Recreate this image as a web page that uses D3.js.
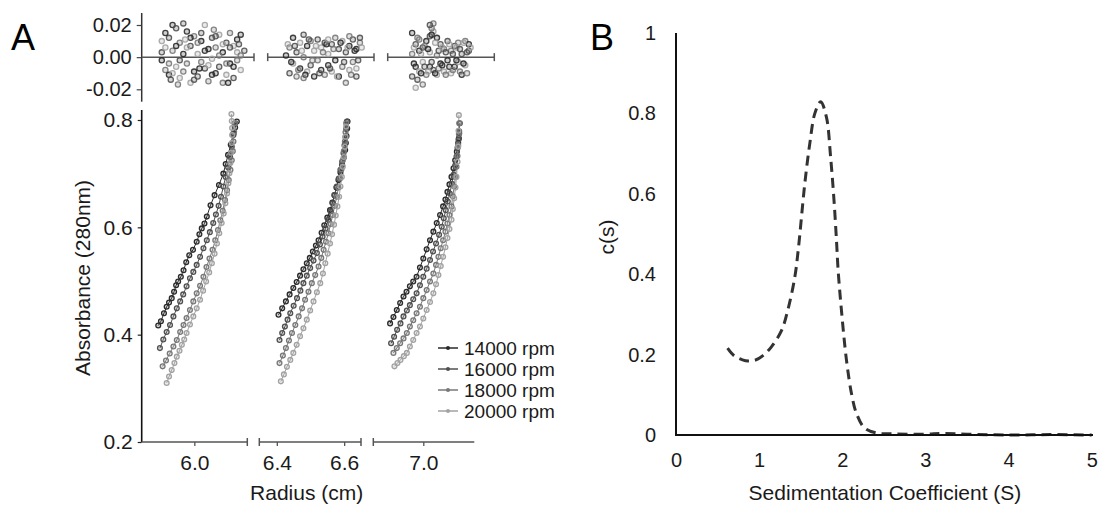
<!DOCTYPE html>
<html>
<head>
<meta charset="utf-8">
<script src="https://cdn.jsdelivr.net/npm/d3@7"></script>
<style>
  html, body { margin: 0; padding: 0; background: #fff; }
  svg { display: block; font-family: "Liberation Sans", Arial, sans-serif; }
</style>
</head>
<body>
<svg id="chart" width="1101" height="506"></svg>
<script>
// ---- Panel A data ----
const speeds = ["14000 rpm", "16000 rpm", "18000 rpm", "20000 rpm"];
const speedColors = ["#2a2a2a", "#505050", "#787878", "#a2a2a2"];

// radius (cm), absorbance — one array per speed, per cell
const cell1Curves = [
  [[5.893,0.417],[5.901,0.425],[5.91,0.44],[5.918,0.452],[5.925,0.46],[5.933,0.468],[5.94,0.48],[5.946,0.492],[5.952,0.499],[5.96,0.508],[5.968,0.52],[5.976,0.535],[5.985,0.548],[5.996,0.558],[6.007,0.573],[6.015,0.587],[6.022,0.598],[6.03,0.607],[6.037,0.62],[6.048,0.641],[6.06,0.66],[6.073,0.679],[6.086,0.70],[6.093,0.718],[6.10,0.735],[6.108,0.754],[6.116,0.775],[6.121,0.786],[6.126,0.797]],
  [[5.898,0.375],[5.908,0.391],[5.918,0.405],[5.928,0.418],[5.938,0.434],[5.948,0.449],[5.958,0.462],[5.967,0.475],[5.977,0.49],[5.987,0.505],[5.997,0.517],[6.007,0.53],[6.017,0.545],[6.027,0.561],[6.037,0.576],[6.046,0.591],[6.056,0.608],[6.064,0.624],[6.072,0.64],[6.079,0.657],[6.086,0.676],[6.093,0.694],[6.10,0.712],[6.106,0.731],[6.111,0.75],[6.116,0.772],[6.121,0.794]],
  [[5.906,0.341],[5.916,0.352],[5.927,0.365],[5.938,0.378],[5.948,0.39],[5.958,0.405],[5.968,0.418],[5.977,0.431],[5.987,0.446],[5.997,0.462],[6.007,0.477],[6.017,0.491],[6.027,0.508],[6.036,0.526],[6.045,0.542],[6.054,0.558],[6.062,0.576],[6.07,0.595],[6.077,0.613],[6.084,0.631],[6.091,0.651],[6.097,0.669],[6.102,0.688],[6.107,0.707],[6.111,0.725],[6.114,0.742],[6.116,0.76],[6.118,0.778],[6.12,0.794]],
  [[5.918,0.31],[5.925,0.322],[5.933,0.334],[5.941,0.347],[5.948,0.359],[5.956,0.37],[5.963,0.381],[5.97,0.391],[5.977,0.403],[5.987,0.419],[5.997,0.434],[6.007,0.449],[6.017,0.465],[6.026,0.482],[6.035,0.499],[6.044,0.516],[6.052,0.533],[6.06,0.551],[6.067,0.57],[6.074,0.589],[6.081,0.608],[6.087,0.626],[6.092,0.645],[6.097,0.663],[6.101,0.682],[6.104,0.701],[6.107,0.72],[6.109,0.739],[6.111,0.757],[6.112,0.772],[6.112,0.785],[6.111,0.798],[6.11,0.811]],
];
const cell2Curves = [
  [[6.405,0.437],[6.416,0.449],[6.427,0.462],[6.438,0.475],[6.449,0.487],[6.459,0.498],[6.469,0.51],[6.479,0.522],[6.489,0.533],[6.498,0.543],[6.507,0.555],[6.516,0.566],[6.524,0.576],[6.533,0.59],[6.541,0.604],[6.55,0.618],[6.558,0.632],[6.565,0.646],[6.571,0.66],[6.577,0.674],[6.583,0.688],[6.589,0.702],[6.594,0.716],[6.599,0.73],[6.603,0.744],[6.605,0.757],[6.607,0.77],[6.609,0.784],[6.61,0.797]],
  [[6.408,0.39],[6.416,0.403],[6.424,0.415],[6.432,0.428],[6.44,0.44],[6.45,0.454],[6.46,0.468],[6.47,0.482],[6.479,0.496],[6.489,0.51],[6.499,0.524],[6.509,0.538],[6.519,0.552],[6.528,0.568],[6.536,0.583],[6.545,0.598],[6.553,0.614],[6.56,0.63],[6.566,0.645],[6.572,0.66],[6.578,0.676],[6.584,0.691],[6.589,0.707],[6.594,0.722],[6.598,0.738],[6.601,0.753],[6.604,0.768],[6.606,0.783],[6.608,0.797]],
  [[6.408,0.347],[6.418,0.361],[6.427,0.375],[6.436,0.389],[6.445,0.403],[6.455,0.418],[6.465,0.434],[6.475,0.449],[6.484,0.465],[6.494,0.48],[6.504,0.496],[6.514,0.511],[6.524,0.527],[6.532,0.543],[6.539,0.558],[6.546,0.573],[6.553,0.589],[6.56,0.606],[6.566,0.623],[6.572,0.64],[6.578,0.657],[6.583,0.674],[6.588,0.691],[6.592,0.708],[6.596,0.725],[6.599,0.742],[6.602,0.76],[6.604,0.777],[6.606,0.794]],
  [[6.412,0.313],[6.421,0.326],[6.43,0.34],[6.44,0.353],[6.449,0.366],[6.459,0.381],[6.469,0.397],[6.479,0.412],[6.489,0.428],[6.499,0.445],[6.509,0.462],[6.519,0.479],[6.529,0.496],[6.537,0.514],[6.544,0.533],[6.551,0.551],[6.558,0.57],[6.564,0.587],[6.57,0.605],[6.575,0.622],[6.58,0.639],[6.585,0.657],[6.589,0.676],[6.593,0.694],[6.596,0.713],[6.599,0.731],[6.602,0.75],[6.604,0.769],[6.606,0.788]],
];
const cell3Curves = [
  [[6.901,0.421],[6.911,0.433],[6.921,0.446],[6.931,0.459],[6.941,0.471],[6.95,0.48],[6.96,0.49],[6.97,0.499],[6.98,0.508],[6.99,0.525],[7.0,0.542],[7.01,0.559],[7.02,0.576],[7.03,0.592],[7.04,0.608],[7.05,0.623],[7.059,0.639],[7.066,0.652],[7.072,0.666],[7.078,0.68],[7.084,0.694],[7.09,0.71],[7.095,0.725],[7.1,0.741],[7.104,0.757],[7.106,0.766],[7.107,0.775]],
  [[6.904,0.384],[6.913,0.396],[6.922,0.409],[6.932,0.421],[6.941,0.434],[6.951,0.445],[6.96,0.455],[6.97,0.466],[6.98,0.477],[6.99,0.492],[7.0,0.508],[7.01,0.523],[7.02,0.539],[7.029,0.555],[7.038,0.57],[7.047,0.586],[7.055,0.601],[7.061,0.617],[7.067,0.632],[7.073,0.648],[7.079,0.663],[7.085,0.681],[7.09,0.698],[7.095,0.715],[7.099,0.732],[7.102,0.748],[7.105,0.763],[7.107,0.779],[7.109,0.794]],
  [[6.911,0.366],[6.921,0.375],[6.931,0.384],[6.941,0.393],[6.951,0.403],[6.96,0.415],[6.97,0.427],[6.98,0.44],[6.99,0.452],[7.0,0.468],[7.01,0.483],[7.02,0.499],[7.03,0.514],[7.038,0.53],[7.045,0.545],[7.052,0.561],[7.059,0.576],[7.066,0.592],[7.072,0.607],[7.078,0.623],[7.084,0.639],[7.088,0.658],[7.092,0.676],[7.096,0.694],[7.099,0.713],[7.102,0.733],[7.104,0.753],[7.106,0.774],[7.107,0.794]],
  [[6.914,0.341],[6.923,0.347],[6.932,0.353],[6.942,0.36],[6.951,0.366],[6.96,0.378],[6.97,0.39],[6.98,0.403],[6.99,0.415],[7.0,0.43],[7.01,0.446],[7.02,0.461],[7.03,0.477],[7.038,0.494],[7.045,0.511],[7.052,0.528],[7.059,0.545],[7.066,0.563],[7.072,0.58],[7.078,0.597],[7.084,0.614],[7.088,0.634],[7.092,0.654],[7.096,0.674],[7.099,0.694],[7.102,0.722],[7.104,0.75],[7.105,0.78],[7.106,0.809]],
];

// residuals: [radius, residual, speed index]
const cell1Resid = [[5.90,-0.002,0],[5.90,0.003,1],[5.91,-0.008,2],[5.91,0.006,3],[5.92,0.012,1],[5.92,-0.011,0],[5.93,0.020,0],[5.93,0.004,2],[5.94,-0.006,3],[5.94,0.018,1],[5.95,0.009,2],[5.95,-0.013,3],[5.96,0.021,1],[5.96,0.002,0],[5.97,-0.004,2],[5.97,0.016,0],[5.98,-0.016,3],[5.98,0.007,1],[5.99,-0.009,0],[5.99,0.013,2],[6.00,0.002,3],[6.00,-0.012,1],[6.01,0.010,0],[6.01,-0.003,2],[6.02,0.020,3],[6.02,-0.007,1],[6.03,0.005,0],[6.03,-0.015,2],[6.04,0.012,1],[6.04,-0.001,3],[6.05,-0.010,0],[6.05,0.006,2],[6.06,0.014,3],[6.06,-0.006,1],[6.07,-0.016,2],[6.07,0.003,0],[6.08,0.009,1],[6.08,-0.011,3],[6.09,0.015,2],[6.09,-0.004,0],[6.10,0.007,3],[6.10,-0.013,1],[6.11,0.011,0],[6.11,-0.002,2],[6.12,0.014,0],[6.12,-0.008,3],[6.13,0.004,1],
  [5.90,0.010,3],[5.91,0.015,0],[5.92,-0.004,2],[5.93,-0.010,3],[5.94,0.007,0],[5.95,-0.002,1],[5.96,-0.009,2],[5.97,0.006,3],[5.98,0.012,0],[5.99,-0.014,1],[6.00,0.009,2],[6.01,0.015,1],[6.02,0.004,0],[6.03,-0.005,3],[6.04,-0.011,0],[6.05,0.013,1],[6.06,0.001,2],[6.07,0.008,3],[6.08,-0.004,2],[6.09,0.006,1],[6.10,-0.006,0],[6.11,0.003,3],[6.12,0.001,2],[5.925,-0.014,1],[5.965,0.011,3],[6.005,-0.007,0],[6.045,0.017,2],[6.085,-0.016,0],[6.115,0.008,1],[5.945,-0.017,2]];
const cell2Resid = [[6.40,0.001,0],[6.41,-0.010,1],[6.41,0.006,2],[6.42,0.012,0],[6.42,-0.004,3],[6.43,0.003,1],[6.43,-0.012,2],[6.44,0.009,3],[6.44,-0.007,0],[6.45,0.014,1],[6.45,0.000,2],[6.46,-0.009,3],[6.46,0.007,0],[6.47,0.010,2],[6.47,-0.005,1],[6.48,0.004,3],[6.48,-0.012,0],[6.49,0.011,1],[6.49,-0.002,2],[6.50,0.006,3],[6.50,-0.008,0],[6.51,0.009,1],[6.51,-0.011,2],[6.52,0.002,3],[6.52,-0.005,0],[6.53,0.008,1],[6.53,-0.009,3],[6.54,0.012,2],[6.54,-0.002,0],[6.55,0.005,1],[6.55,-0.012,0],[6.56,0.010,3],[6.56,-0.006,2],[6.57,0.003,1],[6.57,-0.016,2],[6.58,0.007,0],[6.58,-0.008,3],[6.59,0.011,1],[6.59,-0.003,2],[6.60,0.005,0],[6.60,-0.007,3],[6.61,0.009,2],[6.61,0.012,1],
  [6.405,0.008,3],[6.415,-0.003,0],[6.425,0.007,1],[6.435,-0.008,2],[6.445,0.004,3],[6.455,-0.011,0],[6.465,0.011,1],[6.475,-0.002,2],[6.485,0.007,3],[6.495,-0.010,1],[6.505,0.003,2],[6.515,0.008,0],[6.525,-0.007,1],[6.535,0.005,2],[6.545,-0.012,3],[6.555,0.009,0],[6.565,-0.003,1],[6.575,0.006,3],[6.585,-0.011,2],[6.595,0.004,0],[6.605,-0.002,1],[6.615,0.006,3],[6.45,-0.013,2],[6.52,0.011,3],[6.58,0.013,2],[6.60,-0.012,1]];
const cell3Resid = [[6.92,0.015,0],[6.92,-0.012,1],[6.92,0.002,2],[6.93,-0.019,3],[6.93,0.008,1],[6.93,-0.006,0],[6.94,0.011,2],[6.94,-0.009,3],[6.94,0.004,0],[6.95,-0.017,2],[6.95,0.006,1],[6.95,-0.003,3],[6.96,0.010,0],[6.96,-0.011,2],[6.97,0.003,3],[6.97,0.013,1],[6.97,-0.006,0],[6.98,0.021,2],[6.98,0.016,3],[6.98,-0.008,1],[6.99,0.012,0],[6.99,0.001,2],[6.99,-0.011,3],[7.00,0.008,1],[7.00,-0.004,0],[7.01,0.005,2],[7.01,-0.009,3],[7.02,0.010,1],[7.02,-0.002,0],[7.03,0.004,2],[7.03,-0.010,3],[7.04,0.007,1],[7.04,-0.006,0],[7.05,0.009,2],[7.05,-0.003,3],[7.06,0.002,1],[7.06,-0.011,0],[7.07,0.010,2],[7.07,-0.005,3],[7.08,0.004,1],[7.08,0.008,0],
  [6.925,0.006,3],[6.925,-0.004,0],[6.935,0.012,2],[6.935,-0.014,1],[6.945,0.002,3],[6.945,-0.010,0],[6.955,0.007,2],[6.955,-0.006,1],[6.965,0.005,0],[6.965,-0.009,3],[6.975,0.018,2],[6.975,-0.003,1],[6.985,0.009,3],[6.985,-0.010,0],[6.995,0.004,1],[6.995,-0.007,2],[7.005,0.006,3],[7.005,-0.005,0],[7.015,0.003,1],[7.015,-0.011,2],[7.025,0.008,3],[7.025,-0.006,0],[7.035,0.002,1],[7.035,-0.008,2],[7.045,0.006,3],[7.045,-0.002,0],[7.055,0.005,1],[7.055,-0.009,2],[7.065,0.009,3],[7.065,-0.004,0],[7.075,0.003,1],[7.075,-0.010,2],[7.085,0.006,3],[6.97,0.020,1],[6.975,0.014,0]];

const cellDomains = [[5.844, 6.157], [6.348, 6.65], [6.851, 7.152]];
const cellTicks = [[6.0], [6.4, 6.6], [7.0]];
const absTicks = [0.2, 0.4, 0.6, 0.8];
const residTicks = [-0.02, 0, 0.02];

// ---- Panel B data ----
const sedS = [0.62,0.7,0.8,0.87,0.95,1.05,1.15,1.27,1.35,1.43,1.47,1.55,1.61,1.67,1.74,1.81,1.86,1.90,1.93,1.95,1.99,2.05,2.11,2.17,2.27,2.41,2.6,3.0,3.2,3.5,4.0,4.5,5.0];
const sedC = [0.216,0.197,0.187,0.184,0.186,0.198,0.22,0.26,0.315,0.394,0.46,0.627,0.726,0.80,0.829,0.79,0.69,0.585,0.485,0.41,0.31,0.187,0.104,0.054,0.017,0.005,0.003,0.002,0.004,0.002,0.0,0.001,0.0];
const sTicks = [0, 1, 2, 3, 4, 5];
const cTicks = [0, 0.2, 0.4, 0.6, 0.8, 1];

const svg = d3.select("#chart");
const TXT = "#1a1a1a";
const FONT = "Liberation Sans, Arial, sans-serif";

// ================= Panel A =================
const mainRanges = [[141.7, 247.3], [259.3, 361], [373.3, 474.3]];
const topRanges = [[141.7, 254], [267.7, 374], [387.7, 494.3]];
const cells = [
  { curves: cell1Curves, resid: cell1Resid },
  { curves: cell2Curves, resid: cell2Resid },
  { curves: cell3Curves, resid: cell3Resid },
];

const yAbs = d3.scaleLinear().domain([0.2, 0.8]).range([442, 120]);
const yRes = d3.scaleLinear().domain([-0.02, 0.02]).range([89.3, 25]);

// panel letter
svg.append("text").attr("x", 11).attr("y", 50).attr("font-size", 36).attr("fill", "#000").text("A");

// residual y axis
const resAxis = svg.append("g").attr("transform", "translate(141.7,0)")
  .call(d3.axisLeft(yRes).tickValues(residTicks).tickSize(5).tickPadding(5)
    .tickFormat((d) => d.toFixed(2)))
  .call((a) => a.select(".domain").remove())
  .call((a) => a.selectAll("line").attr("stroke", "#444").attr("stroke-width", 1.2))
  .call((a) => a.selectAll("text").attr("font-size", 20).attr("fill", TXT).attr("font-family", FONT));
resAxis.append("line").attr("y1", 13).attr("y2", 101.7).attr("stroke", "#333").attr("stroke-width", 1.5);

// main y axis
svg.append("g").attr("transform", "translate(141.7,0)")
  .call(d3.axisLeft(yAbs).tickValues(absTicks).tickSize(4).tickPadding(5).tickFormat(d3.format(".1f")))
  .call((a) => a.select(".domain").remove())
  .call((a) => a.selectAll("line").attr("stroke", "#222").attr("stroke-width", 1.2))
  .call((a) => a.selectAll("text").attr("font-size", 21).attr("fill", TXT).attr("font-family", FONT))
  .append("line").attr("y1", 110).attr("y2", 442).attr("stroke", "#111").attr("stroke-width", 1.6);

cells.forEach((cell, ci) => {
  const xm = d3.scaleLinear().domain(cellDomains[ci]).range(mainRanges[ci]);
  const xt = d3.scaleLinear().domain(cellDomains[ci]).range(topRanges[ci]);
  const [m0, m1] = mainRanges[ci];
  const [t0, t1] = topRanges[ci];

  // residual baseline segment with break ticks
  const rg = svg.append("g");
  rg.append("line").attr("x1", t0).attr("x2", t1).attr("y1", yRes(0)).attr("y2", yRes(0))
    .attr("stroke", "#555").attr("stroke-width", 1.5);
  const tEnds = ci === 0 ? [t1] : [t0, t1];
  tEnds.forEach((x) => rg.append("line").attr("x1", x).attr("x2", x)
    .attr("y1", yRes(0) - 4).attr("y2", yRes(0) + 4).attr("stroke", "#555").attr("stroke-width", 1.5));

  rg.selectAll("circle.res").data(cell.resid).join("circle")
    .attr("class", "res")
    .attr("cx", (d) => xt(d[0]))
    .attr("cy", (d) => yRes(d[1]))
    .attr("r", 2.6)
    .attr("fill", (d) => speedColors[d[2]])
    .attr("fill-opacity", 0.25)
    .attr("stroke", (d) => speedColors[d[2]])
    .attr("stroke-width", 1.3)
    .attr("opacity", 0.9);

  // main x axis segment
  const xg = svg.append("g").attr("transform", "translate(0,442)");
  xg.append("line").attr("x1", m0).attr("x2", m1).attr("stroke", "#555").attr("stroke-width", 1.5);
  const mEnds = ci === 0 ? [m1] : ci === 1 ? [m0, m1] : [m0];
  mEnds.forEach((x) => xg.append("line").attr("x1", x).attr("x2", x)
    .attr("y1", -4).attr("y2", 4).attr("stroke", "#555").attr("stroke-width", 1.5));
  xg.append("g")
    .call(d3.axisBottom(xm).tickValues(cellTicks[ci]).tickSize(4).tickPadding(9).tickFormat(d3.format(".1f")))
    .call((a) => a.select(".domain").remove())
    .call((a) => a.selectAll("line").attr("stroke", "#555").attr("stroke-width", 1.3))
    .call((a) => a.selectAll("text").attr("font-size", 21).attr("fill", TXT).attr("font-family", FONT));

  // curves: thin connecting lines, then open markers
  const line = d3.line().x((d) => xm(d[0])).y((d) => yAbs(d[1]));
  cell.curves.forEach((pts, k) => {
    svg.append("path").datum(pts).attr("d", line)
      .attr("fill", "none").attr("stroke", speedColors[k]).attr("stroke-width", 1);
  });
  cell.curves.forEach((pts, k) => {
    svg.append("g").selectAll("circle").data(pts).join("circle")
      .attr("cx", (d) => xm(d[0]))
      .attr("cy", (d) => yAbs(d[1]))
      .attr("r", 2.4)
      .attr("fill", speedColors[k])
      .attr("fill-opacity", 0.2)
      .attr("stroke", speedColors[k])
      .attr("stroke-width", 1.3);
  });
});

// axis titles
svg.append("text").attr("transform", "translate(83,278) rotate(-90)")
  .attr("text-anchor", "middle").attr("dy", "0.35em").attr("font-size", 21).attr("fill", TXT)
  .text("Absorbance (280nm)");
svg.append("text").attr("x", 306.7).attr("y", 500).attr("text-anchor", "middle")
  .attr("font-size", 21).attr("fill", TXT).text("Radius (cm)");

// legend
const lg = svg.append("g");
speeds.forEach((s, k) => {
  const y = 348 + k * 21;
  lg.append("line").attr("x1", 438).attr("x2", 458).attr("y1", y).attr("y2", y)
    .attr("stroke", speedColors[k]).attr("stroke-width", 1.5);
  lg.append("circle").attr("cx", 448).attr("cy", y).attr("r", 2).attr("fill", speedColors[k]);
  lg.append("text").attr("x", 464).attr("y", y).attr("dy", "0.35em")
    .attr("font-size", 19).attr("fill", TXT).text(s);
});

// ================= Panel B =================
const xS = d3.scaleLinear().domain([0, 5]).range([676, 1091.7]);
const yC = d3.scaleLinear().domain([0, 1]).range([435, 33]);

svg.append("text").attr("x", 590).attr("y", 50).attr("font-size", 36).attr("fill", "#000").text("B");

svg.append("g").attr("transform", "translate(676,0)")
  .call(d3.axisLeft(yC).tickValues(cTicks).tickSize(0).tickPadding(20).tickFormat(d3.format("~g")))
  .call((a) => a.select(".domain").remove())
  .call((a) => a.selectAll("text").attr("font-size", 20).attr("fill", TXT).attr("font-family", FONT));

svg.append("g").attr("transform", "translate(0,435)")
  .call(d3.axisBottom(xS).tickValues(sTicks).tickSize(0).tickPadding(18).tickFormat(d3.format("d")))
  .call((a) => a.select(".domain").remove())
  .call((a) => a.selectAll("text").attr("font-size", 20).attr("fill", TXT).attr("font-family", FONT));

const sedData = sedS.map((s, i) => [s, sedC[i]]);
svg.append("path").datum(sedData)
  .attr("d", d3.line().x((d) => xS(d[0])).y((d) => yC(d[1])).curve(d3.curveCatmullRom.alpha(0.5)))
  .attr("fill", "none").attr("stroke", "#333").attr("stroke-width", 3)
  .attr("stroke-dasharray", "10,6");

// axis lines drawn last
svg.append("line").attr("x1", 676).attr("x2", 676).attr("y1", 33).attr("y2", 436)
  .attr("stroke", "#111").attr("stroke-width", 2);
svg.append("line").attr("x1", 675).attr("x2", 1093).attr("y1", 435).attr("y2", 435)
  .attr("stroke", "#111").attr("stroke-width", 2);

svg.append("text").attr("transform", "translate(607,237) rotate(-90)")
  .attr("text-anchor", "middle").attr("dy", "0.35em").attr("font-size", 21).attr("fill", TXT)
  .text("c(s)");
svg.append("text").attr("x", 885).attr("y", 500).attr("text-anchor", "middle")
  .attr("font-size", 21).attr("fill", TXT).text("Sedimentation Coefficient (S)");
</script>
</body>
</html>
